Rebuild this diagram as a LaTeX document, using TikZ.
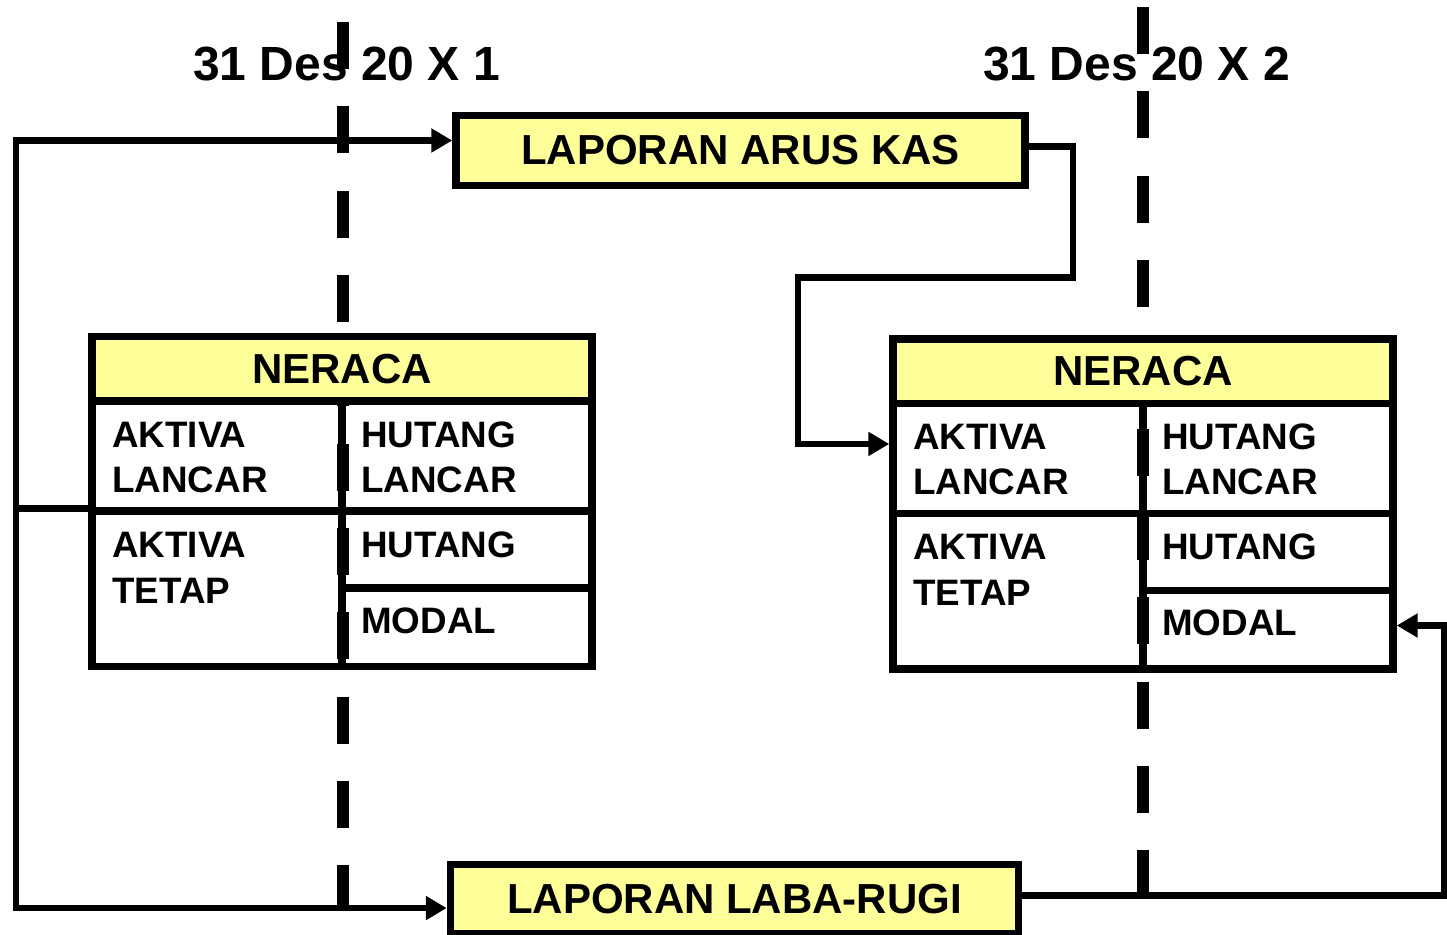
\documentclass[tikz,border=0pt]{standalone}
\usepackage{fontspec}
\setmainfont{Liberation Sans}
\usetikzlibrary{arrows.meta}
\definecolor{boxyellow}{HTML}{FFFF99}
\newcommand\neracatab[3]{%
 \begin{scope}[shift={(#2,#3)}]
  \node[hdr,minimum width=375pt,minimum height=48.375pt] (#1h) at (342,368.75) {\raisebox{-2pt}{NERACA}};
  \node[cell,minimum width=187.5pt,minimum height=82.5pt] (#1al) at (217,456) {};
  \node[cell,minimum width=187.5pt,minimum height=116.625pt] (#1at) at (217,588.75) {};
  \node[cell,minimum width=187.5pt,minimum height=82.5pt] (#1hl) at (467,456) {};
  \node[cell,minimum width=187.5pt,minimum height=57.75pt] (#1hu) at (467,549.5) {};
  \node[cell,minimum width=187.5pt,minimum height=58.875pt] (#1mo) at (467,627.25) {};
  \node[ctext] (#1t1) at (112,447) {AKTIVA};
  \node[ctext] (#1t2) at (112,492) {LANCAR};
  \node[ctext] (#1t3) at (112,557) {AKTIVA};
  \node[ctext] (#1t4) at (112,603) {TETAP};
  \node[ctext] (#1t5) at (361,447) {HUTANG};
  \node[ctext] (#1t6) at (361,492) {LANCAR};
  \node[ctext] (#1t7) at (361,557) {HUTANG};
  \node[ctext] (#1t8) at (361,633) {MODAL};
 \end{scope}}
\begin{document}
\begin{tikzpicture}[x=0.75pt,y=-0.75pt,
 boxline/.style={draw=black,line width=5.6pt},
 hdr/.style={boxline,fill=boxyellow,inner sep=0pt,font=\bfseries\fontsize{31.5pt}{36pt}\selectfont},
 cell/.style={boxline,fill=white,inner sep=0pt},
 ctext/.style={anchor=base west,inner sep=0pt,font=\bfseries\fontsize{27.6pt}{32pt}\selectfont},
 ttl/.style={anchor=base,inner sep=0pt,font=\bfseries\fontsize{36pt}{40pt}\selectfont},
 conn/.style={line width=5.1pt,line join=miter},
 arr/.style={conn,-{Triangle[length=15.75pt,width=17.25pt]}},
 timeline/.style={line width=9pt,dash pattern=on 35.25pt off 28pt}]
\fill[white] (0,0) rectangle (1447,935);
\useasboundingbox (0,0) rectangle (1447,935);
% time lines
\coordinate (ta) at (343,22);
\coordinate (tb) at (343,908);
\coordinate (tc) at (1143,7);
\coordinate (td) at (1143,893);
\draw[timeline] (ta) -- (tb);
\draw[timeline] (tc) -- (td);
% balance sheets
\neracatab{L}{0}{0}
\neracatab{R}{801}{2.5}
\begin{scope}
 \clip (Lal.north west) rectangle (Lmo.south east);
 \draw[timeline] (ta) -- (tb);
\end{scope}
\begin{scope}
 \clip (Ral.north west) rectangle (Rmo.south east);
 \draw[timeline] (tc) -- (td);
\end{scope}
% reports
\node[hdr,minimum width=426.75pt,minimum height=52.5pt] (arus) at (740.5,150.5) {LAPORAN ARUS KAS};
\node[hdr,minimum width=426pt,minimum height=52.125pt] (laba) at (734.5,899.25) {LAPORAN LABA-RUGI};
% titles
\node[ttl] (d1) at (346.5,80) {31 Des 20 X 1};
\node[ttl] (d2) at (1136.5,80) {31 Des 20 X 2};
% connectors
\coordinate (J) at (16,508.5);
\coordinate (k1) at (1073,277.5);
\coordinate (k2) at (798,277.5);
\coordinate (k3) at (1444,625.5);
\draw[conn] (J) -- (J -| Lal.west);
\draw[arr] (J) |- ([yshift=7.5pt]arus.west);
\draw[arr] (J) |- ([yshift=-6.6pt]laba.west);
\draw[arr] ([yshift=3pt]arus.east) -| (k1) -- (k2) |- ([yshift=10.9pt]Ral.west);
\draw[arr] ([yshift=2.8pt]laba.east) -| (k3) -- (k3 -| Rmo.east);
\end{tikzpicture}
\end{document}
